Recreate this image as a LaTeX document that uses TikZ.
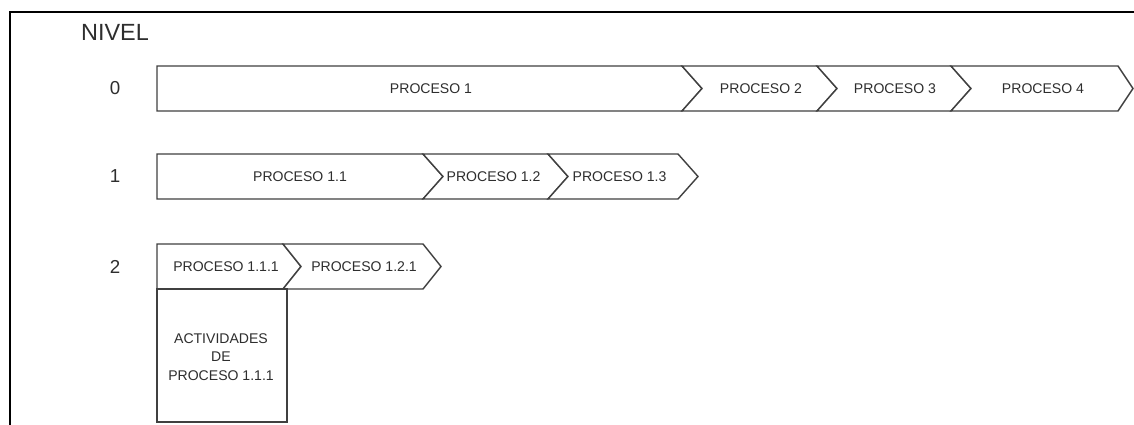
\documentclass[tikz,border=0pt]{standalone}
\usepackage{fontspec}
\setmainfont{Liberation Sans}
\definecolor{procline}{HTML}{404040}
\definecolor{proctext}{HTML}{2E2E2E}

\begin{document}
\begin{tikzpicture}[
    x=0.03cm, y=-0.03cm,
    line width=1.2pt,
    proc/.style={draw=procline, fill=white, line join=miter},
    proclabel/.style={text=proctext, font=\fontsize{12}{16}\selectfont, inner sep=0pt, align=center},
    levellabel/.style={text=proctext, font=\fontsize{16}{18}\selectfont, inner sep=0pt}
]
    \useasboundingbox (0,0) rectangle (1134,425);

    % Outer frame (cut at right and bottom)
    \draw[line width=1.6pt] (1134,12) -- (10,12) -- (10,425);

    % Level column
    \node[levellabel, font=\fontsize{20}{22}\selectfont] (nivel) at (115,32) {NIVEL};
    \node[levellabel] (lvl0) at (115,88.5) {0};
    \node[levellabel] (lvl1) at (115,176.5) {1};
    \node[levellabel] (lvl2) at (115,266.5) {2};

    % Level 0
    \draw[proc] (157,66) -- (682,66) -- (702,88.5) -- (682,111) -- (157,111) -- cycle;
    \draw[proc] (682,66) -- (817,66) -- (837,88.5) -- (817,111) -- (682,111) -- (702,88.5) -- cycle;
    \draw[proc] (817,66) -- (951,66) -- (971,88.5) -- (951,111) -- (817,111) -- (837,88.5) -- cycle;
    \draw[proc] (951,66) -- (1118,66) -- (1133,88.5) -- (1118,111) -- (951,111) -- (971,88.5) -- cycle;
    \node[proclabel] (p1) at (431,88.5) {PROCESO 1};
    \node[proclabel] (p2) at (761,88.5) {PROCESO 2};
    \node[proclabel] (p3) at (895,88.5) {PROCESO 3};
    \node[proclabel] (p4) at (1043,88.5) {PROCESO 4};

    % Level 1
    \draw[proc] (157,154) -- (423,154) -- (443,176.5) -- (423,199) -- (157,199) -- cycle;
    \draw[proc] (423,154) -- (548,154) -- (568,176.5) -- (548,199) -- (423,199) -- (443,176.5) -- cycle;
    \draw[proc] (548,154) -- (678,154) -- (698,176.5) -- (678,199) -- (548,199) -- (568,176.5) -- cycle;
    \node[proclabel] (p11) at (300,176.5) {PROCESO 1.1};
    \node[proclabel, anchor=west] (p12) at (446,176.5) {PROCESO 1.2};
    \node[proclabel, anchor=west] (p13) at (572,176.5) {PROCESO 1.3};

    % Level 2
    \draw[proc] (157,244) -- (283,244) -- (301,266.5) -- (283,289) -- (157,289) -- cycle;
    \draw[proc] (283,244) -- (423,244) -- (441,266.5) -- (423,289) -- (283,289) -- (301,266.5) -- cycle;
    \node[proclabel] (p111) at (226,266.5) {PROCESO 1.1.1};
    \node[proclabel] (p121) at (364,266.5) {PROCESO 1.2.1};

    % Activities of process 1.1.1
    \draw[proc] (157,289) rectangle (287,422);
    \node[proclabel] (act) at (221,357) {ACTIVIDADES\\DE\\PROCESO 1.1.1};

\end{tikzpicture}
\end{document}
